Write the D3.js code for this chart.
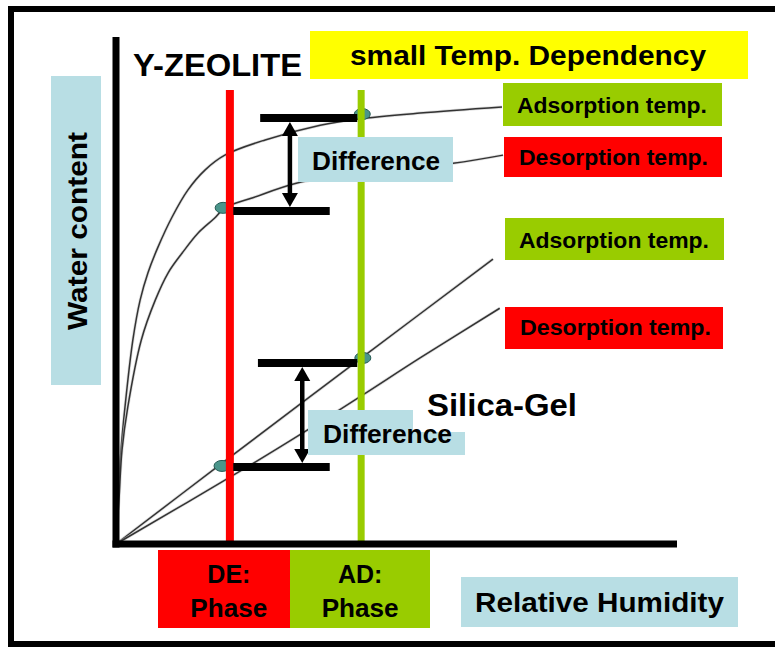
<!DOCTYPE html>
<html><head><meta charset="utf-8">
<script src="https://cdn.jsdelivr.net/npm/d3@7"></script>
<style>html,body{margin:0;padding:0;background:#fff;} svg{display:block;}</style>
</head><body><svg id="c" width="775" height="648"></svg>
<script>
// ---- data (relative humidity %, water content %) ----
const zeoliteAdsorption = [[0,0],[0.36,8.7],[0.89,18.5],[1.6,27.0],[3.0,40.2],[4.3,48.1],[5.7,53.5],[7.5,58.6],[10.0,64.5],[12.8,69.8],[15.9,73.8],[19.4,76.7],[26.6,79.7],[36.4,82.6],[43.0,83.8],[54.2,85.0],[68.8,86.2]];
const zeoliteDesorption = [[0,0],[0.53,8.7],[1.07,18.5],[2.1,27.0],[4.5,40.2],[7.0,48.1],[9.3,53.5],[11.8,57.4],[14.6,61.3],[17.6,64.3],[19.4,66.3],[24.4,68.3],[32.3,71.2],[43.0,73.2],[60.1,75.1],[69.0,76.7]];
const silicaAdsorption = [[0,0],[18.5,15.6],[44.0,36.9],[67.2,56.2]];
const silicaDesorption = [[0,0],[23.4,15.2],[33.3,21.9],[44.0,29.4],[54.2,36.7],[68.4,46.5]];
const phaseNames = ["DE:", "AD:"];
const phaseRH = [20.3, 43.7];
const statePoints = [[43.9,84.8],[19.1,66.3],[44.0,36.7],[18.9,15.4]];
// difference markers: [upper value, lower value, upper bar from RH, lower bar from RH, bar to RH (upper), bar to RH (lower), arrow RH]
const diffUpper = [84.0, 35.7];
const diffLower = [65.7, 15.2];
const diffArrowRH = [31.0, 33.2];
const diffUpperFrom = [25.7, 25.3];
const diffUpperTo = [43.0, 43.0];
const diffLowerFrom = [20.9, 20.9];
const diffLowerTo = [38.1, 38.1];

const svg = d3.select("#c");
const x = d3.scaleLinear().domain([0,100]).range([116,677]);
const y = d3.scaleLinear().domain([0,100]).range([544,37]);

const FONT = "'Liberation Sans', Arial, sans-serif";
const RED = "#ff0000", GREEN = "#99cc00", BLUE = "#b8dee4", YEL = "#ffff00";

// outer frame
svg.append("rect").attr("x",11).attr("y",9).attr("width",775).attr("height",635)
  .attr("fill","none").attr("stroke","#000").attr("stroke-width",6);

function rect(x0,y0,w,h,fill){ svg.append("rect").attr("x",x0).attr("y",y0).attr("width",w).attr("height",h).attr("fill",fill); }
function text(t,x0,yb,size,opts={}){
  const el = svg.append("text").attr("x",x0).attr("y",yb).text(t)
    .attr("font-family",FONT).attr("font-size",size).attr("font-weight",opts.weight||"bold")
    .attr("fill","#000").attr("text-anchor",opts.anchor||"start");
  if(opts.tl){ el.attr("textLength",opts.tl).attr("lengthAdjust","spacingAndGlyphs"); }
  if(opts.transform){ el.attr("transform",opts.transform); }
  return el;
}

// curves
const line = d3.line().x(d=>x(d[0])).y(d=>y(d[1])).curve(d3.curveCatmullRom.alpha(0.5));
[zeoliteAdsorption, zeoliteDesorption, silicaAdsorption, silicaDesorption].forEach(s=>{
  svg.append("path").attr("d",line(s)).attr("fill","none")
    .attr("stroke","#bbb").attr("stroke-width",3).attr("opacity",0.5);
  svg.append("path").attr("d",line(s)).attr("fill","none")
    .attr("stroke","#333").attr("stroke-width",1.5);
});

// state points
svg.selectAll("ellipse.pt").data(statePoints).enter().append("ellipse")
  .attr("cx",d=>x(d[0])).attr("cy",d=>y(d[1])).attr("rx",8).attr("ry",5.5)
  .attr("fill","#4a958b").attr("stroke","#245a53").attr("stroke-width",1);

// phase lines
svg.selectAll("line.phase").data(phaseRH).enter().append("line")
  .attr("x1",d=>x(d)).attr("x2",d=>x(d)).attr("y1",90).attr("y2",y(0))
  .attr("stroke",(d,i)=>i===0?RED:GREEN).attr("stroke-width",(d,i)=>i===0?8:7);

// axes
svg.append("line").attr("x1",x(0)).attr("x2",x(0)).attr("y1",y(100)).attr("y2",y(0)+3.5)
  .attr("stroke","#000").attr("stroke-width",7);
svg.append("line").attr("x1",x(0)-3.5).attr("x2",x(100)).attr("y1",y(0)).attr("y2",y(0))
  .attr("stroke","#000").attr("stroke-width",7);

// difference bars and arrows
diffUpper.forEach((u,i)=>{
  const l = diffLower[i];
  svg.append("line").attr("x1",x(diffUpperFrom[i])).attr("x2",x(diffUpperTo[i])).attr("y1",y(u)).attr("y2",y(u))
    .attr("stroke","#000").attr("stroke-width",8);
  svg.append("line").attr("x1",x(diffLowerFrom[i])).attr("x2",x(diffLowerTo[i])).attr("y1",y(l)).attr("y2",y(l))
    .attr("stroke","#000").attr("stroke-width",8);
  const ax = x(diffArrowRH[i]), top = y(u)+4, bot = y(l)-4, hh = 14, hw = 8;
  svg.append("line").attr("x1",ax).attr("x2",ax).attr("y1",top+hh-1).attr("y2",bot-hh+1)
    .attr("stroke","#000").attr("stroke-width",4.5);
  svg.append("path").attr("d",`M${ax},${top}L${ax-hw},${top+hh}L${ax+hw},${top+hh}Z`).attr("fill","#000");
  svg.append("path").attr("d",`M${ax},${bot}L${ax-hw},${bot-hh}L${ax+hw},${bot-hh}Z`).attr("fill","#000");
});

// labels
text("Y-ZEOLITE",133,76,32,{tl:169});
rect(310,31,438,48,YEL);
text("small Temp. Dependency",350,65,28,{tl:356});

rect(503,83,219,43,GREEN); text("Adsorption temp.",517,113,22,{tl:190});
rect(504,137,218,40,RED);  text("Desorption temp.",519,165,22,{tl:189});
rect(505,218,219,42,GREEN); text("Adsorption temp.",519,248,22,{tl:190});
rect(505,307,218,42,RED);  text("Desorption temp.",520,335,22,{tl:191});

rect(298,137,155,45,BLUE); text("Difference",312,170,25,{tl:128});
rect(308,410,157,45,BLUE);
rect(413,380,180,52,"#fff");
text("Difference",323,443,25,{tl:129});
text("Silica-Gel",427,416,32,{tl:150});

rect(51,76,50,309,BLUE);
text("Water content",0,0,28,{anchor:"middle",tl:198,transform:"translate(87,231) rotate(-90)"});

// phase boxes
const phaseBoxes = [[158,132,RED],[290,140,GREEN]];
phaseNames.forEach((n,i)=>{
  const b = phaseBoxes[i];
  rect(b[0],550,b[1],78,b[2]);
  const cx = x(phaseRH[i]) - 1;
  text(n,cx,583,25,{anchor:"middle"});
  text("Phase",cx,617,25,{anchor:"middle",tl:77});
});

rect(461,577,277,50,BLUE);
text("Relative Humidity",475,612,27,{tl:249});
</script>
</body></html>
